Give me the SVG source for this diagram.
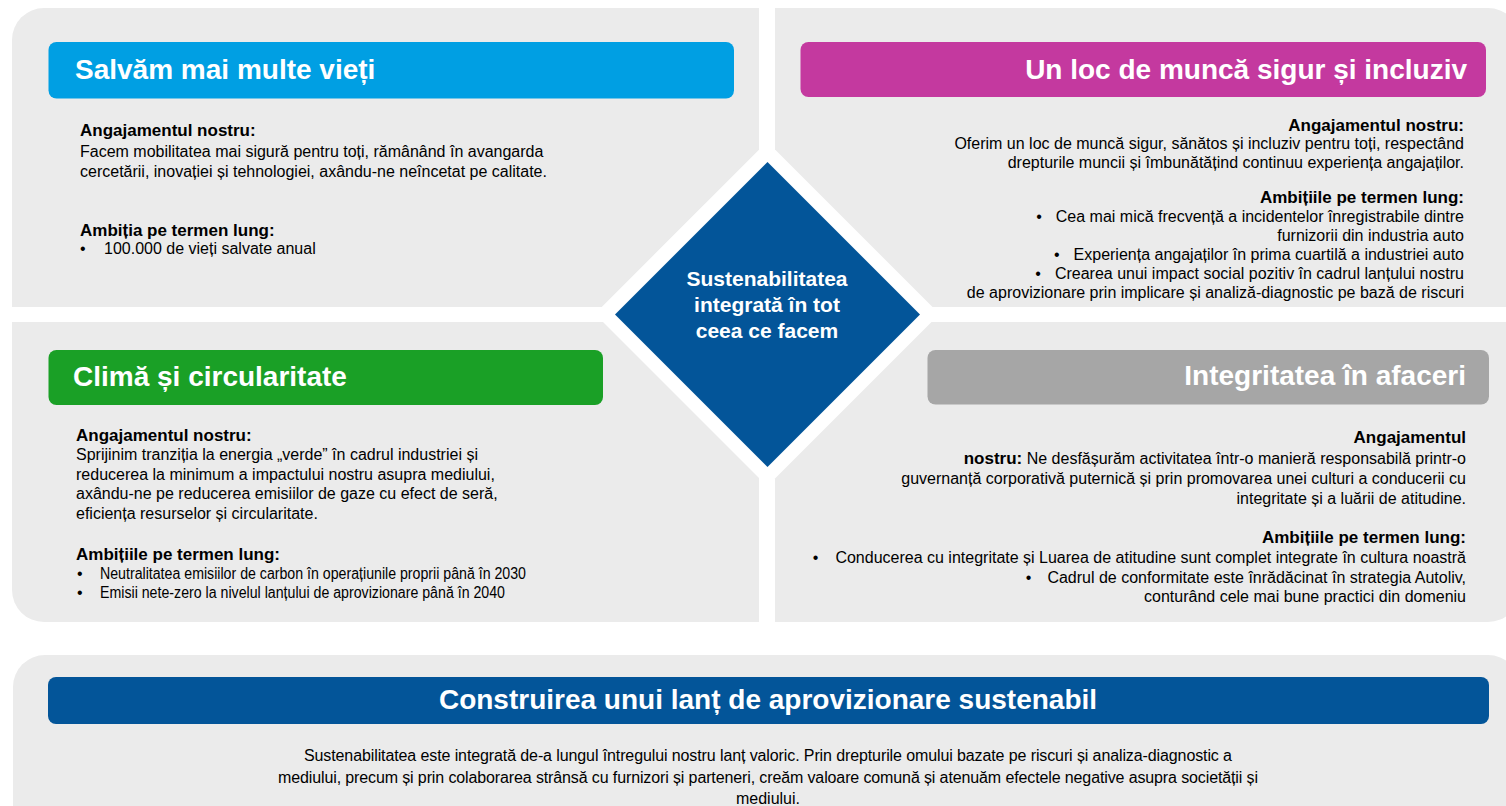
<svg xmlns="http://www.w3.org/2000/svg" width="1506" height="806" viewBox="0 0 1506 806">
<style>
.q{fill:#EBEBEB}
text{font-family:"Liberation Sans",Arial,sans-serif;fill:#000}
.t{font-weight:bold;font-size:28px;fill:#fff}
.h{font-weight:bold;font-size:17px}
.b{font-size:16px}
.c{font-weight:bold;font-size:21px;fill:#fff}
.e{text-anchor:end}
</style>
<rect width="1506" height="806" fill="#fff"/>
<g id="quadrant-top-left">
<path class="q" d="M12,40 A32,32 0 0 1 44,8 L759,8 L759,149.7 L601.7,307 L12,307 Z"/>
<rect x="48.5" y="42" width="685.5" height="56.5" rx="8" fill="#009FE3"/>
<text class="t" x="75" y="79">Salvăm mai multe vieți</text>
<text class="h" x="80" y="136">Angajamentul nostru:</text>
<text class="b" x="80" y="157">Facem mobilitatea mai sigură pentru toți, rămânând în avangarda</text>
<text class="b" x="80" y="177">cercetării, inovației și tehnologiei, axându-ne neîncetat pe calitate.</text>
<text class="h" x="80" y="236">Ambiția pe termen lung:</text>
<text class="b" x="80" y="254">•</text>
<text class="b" x="104" y="254">100.000 de vieți salvate anual</text>
</g>
<g id="quadrant-top-right">
<path class="q" d="M775,8 L1488,8 A32,32 0 0 1 1520,40 L1520,307 L932.5,307 L775,149.5 Z"/>
<rect x="800.5" y="42" width="685.5" height="55" rx="8" fill="#C4399F"/>
<text class="t e" x="1467" y="79">Un loc de muncă sigur și incluziv</text>
<text class="h e" x="1464" y="131">Angajamentul nostru:</text>
<text class="b e" x="1464" y="149">Oferim un loc de muncă sigur, sănătos și incluziv pentru toți, respectând</text>
<text class="b e" x="1464" y="168">drepturile muncii și îmbunătățind continuu experiența angajaților.</text>
<text class="h e" x="1464" y="203">Ambițiile pe termen lung:</text>
<text class="b e" x="1464" y="222"><tspan>•</tspan><tspan dx="14">Cea mai mică frecvență a incidentelor înregistrabile dintre</tspan></text>
<text class="b e" x="1464" y="241">furnizorii din industria auto</text>
<text class="b e" x="1464" y="260"><tspan>•</tspan><tspan dx="14">Experiența angajaților în prima cuartilă a industriei auto</tspan></text>
<text class="b e" x="1464" y="279"><tspan>•</tspan><tspan dx="14">Crearea unui impact social pozitiv în cadrul lanțului nostru</tspan></text>
<text class="b e" x="1464" y="298">de aprovizionare prin implicare și analiză-diagnostic pe bază de riscuri</text>
</g>
<g id="quadrant-bottom-left">
<path class="q" d="M12,322 L603,322 L759,478 L759,622 L44,622 A32,32 0 0 1 12,590 Z"/>
<rect x="48.5" y="350" width="554.5" height="55" rx="8" fill="#1AA026"/>
<text class="t" x="73" y="386">Climă și circularitate</text>
<text class="h" x="76" y="441">Angajamentul nostru:</text>
<text class="b" x="76" y="460">Sprijinim tranziția la energia „verde” în cadrul industriei și</text>
<text class="b" x="76" y="479.5">reducerea la minimum a impactului nostru asupra mediului,</text>
<text class="b" x="76" y="499">axându-ne pe reducerea emisiilor de gaze cu efect de seră,</text>
<text class="b" x="76" y="518.5">eficiența resurselor și circularitate.</text>
<text class="h" x="76" y="560">Ambițiile pe termen lung:</text>
<text class="b" x="77" y="579">•</text>
<text class="b" x="100" y="579" textLength="426" lengthAdjust="spacingAndGlyphs">Neutralitatea emisiilor de carbon în operațiunile proprii până în 2030</text>
<text class="b" x="77" y="598">•</text>
<text class="b" x="100" y="598" textLength="405" lengthAdjust="spacingAndGlyphs">Emisii nete-zero la nivelul lanțului de aprovizionare până în 2040</text>
</g>
<g id="quadrant-bottom-right">
<path class="q" d="M775,478.5 L931.5,322 L1520,322 L1520,590 A32,32 0 0 1 1488,622 L775,622 Z"/>
<rect x="927.5" y="350" width="561.5" height="54.5" rx="8" fill="#A6A6A6"/>
<text class="t e" x="1466" y="385">Integritatea în afaceri</text>
<text class="h e" x="1466" y="443">Angajamentul</text>
<text class="b e" x="1466" y="464"><tspan class="h">nostru:</tspan> Ne desfășurăm activitatea într-o manieră responsabilă printr-o</text>
<text class="b e" x="1466" y="484">guvernanță corporativă puternică și prin promovarea unei culturi a conducerii cu</text>
<text class="b e" x="1466" y="504">integritate și a luării de atitudine.</text>
<text class="h e" x="1466" y="543">Ambițiile pe termen lung:</text>
<text class="b e" x="1466" y="563"><tspan>•</tspan><tspan dx="17">Conducerea cu integritate și Luarea de atitudine sunt complet integrate în cultura noastră</tspan></text>
<text class="b e" x="1466" y="583"><tspan>•</tspan><tspan dx="16">Cadrul de conformitate este înrădăcinat în strategia Autoliv,</tspan></text>
<text class="b e" x="1466" y="602">conturând cele mai bune practici din domeniu</text>
</g>
<g id="center-diamond">
<polygon points="767.5,162 920,314.5 767.5,467 615,314.5" fill="#035599"/>
<text class="c" text-anchor="middle" x="767" y="286">Sustenabilitatea</text>
<text class="c" text-anchor="middle" x="767" y="312">integrată în tot</text>
<text class="c" text-anchor="middle" x="767" y="338">ceea ce facem</text>
</g>
<g id="supply-chain">
<path class="q" d="M13,687 A32,32 0 0 1 45,655 L1488,655 A32,32 0 0 1 1520,687 L1520,820 L13,820 Z"/>
<rect x="48" y="677" width="1441" height="47" rx="8" fill="#035599"/>
<text class="t" text-anchor="middle" x="768" y="709">Construirea unui lanț de aprovizionare sustenabil</text>
<text class="b" text-anchor="middle" x="768" y="761" textLength="928">Sustenabilitatea este integrată de-a lungul întregului nostru lanț valoric. Prin drepturile omului bazate pe riscuri și analiza-diagnostic a</text>
<text class="b" text-anchor="middle" x="768" y="782.5" textLength="980">mediului, precum și prin colaborarea strânsă cu furnizori și parteneri, creăm valoare comună și atenuăm efectele negative asupra societății și</text>
<text class="b" text-anchor="middle" x="768" y="804">mediului.</text>
</g>
<g id="connectors"></g>
</svg>
